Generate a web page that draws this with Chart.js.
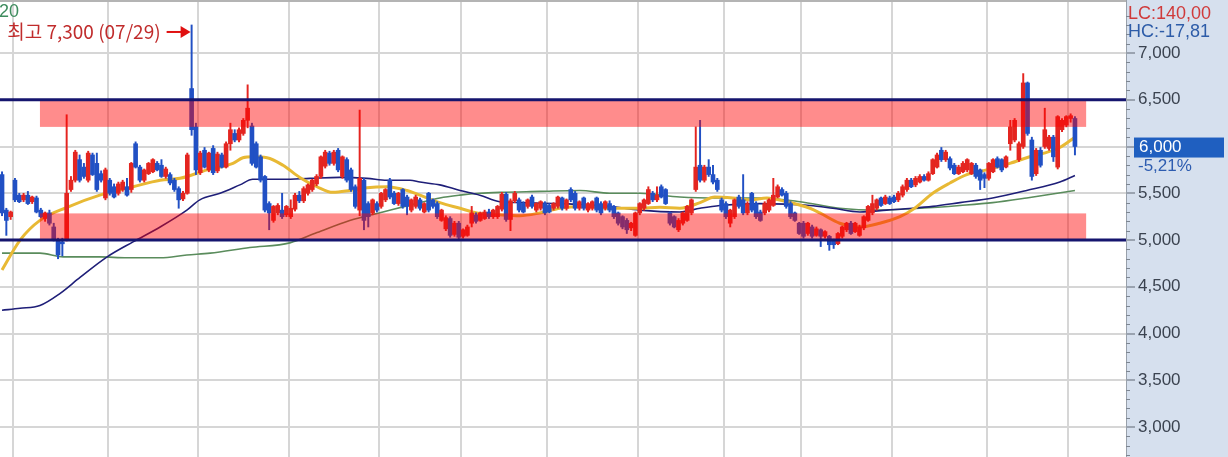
<!DOCTYPE html>
<html lang="ko">
<head>
  <meta charset="UTF-8" />
  <title>주가 차트</title>
  <style>
    * { margin: 0; padding: 0; box-sizing: border-box; }
    body { background: #fff; width: 1228px; height: 457px; overflow: hidden; }
    canvas { display: block; }
  </style>
</head>
<body>
  <canvas id="priceChart" width="1228" height="457"></canvas>

  <script src="https://cdn.jsdelivr.net/npm/chart.js"></script>
  <script>
    // daily candles (won)
    const opens = [
      5700, 5320, 5250, 5640, 5480, 5430, 5480, 5410, 5450, 5320,
      5230, 5290, 5140, 5000, 4980, 5000, 5540, 5640, 5860, 5780,
      5640, 5910, 5820, 5710, 5450, 5640, 5570, 5500, 5540, 5570,
      5540, 6030, 5780, 5640, 5710, 5730, 5820, 5800, 5680, 5700,
      5640, 5550, 5440, 5500, 6620, 6210, 5720, 5960, 5750, 5980,
      5740, 5910, 5780, 6030, 6140, 6070, 6140, 6280, 6220, 6030,
      5890, 5680, 5390, 5210, 5290, 5320, 5270, 5250, 5330, 5480,
      5420, 5500, 5540, 5600, 5680, 5790, 5930, 5820, 5960, 5680,
      5860, 5750, 5570, 5320, 5640, 5390, 5290, 5390, 5360, 5430,
      5640, 5500, 5390, 5540, 5460, 5320, 5360, 5430, 5300, 5500,
      5430, 5390, 5210, 5120, 5230, 5060, 5180, 5040, 5050, 5180,
      5270, 5210, 5230, 5300, 5250, 5250, 5330, 5490, 5220, 5420,
      5430, 5390, 5360, 5460, 5320, 5340, 5390, 5370, 5340, 5360,
      5450, 5340, 5540, 5500, 5340, 5450, 5320, 5340, 5450, 5390,
      5340, 5390, 5360, 5290, 5250, 5210, 5130, 5050, 5290, 5340,
      5390, 5500, 5430, 5570, 5540, 5290, 5250, 5110, 5180, 5210,
      5290, 5540, 5800, 5640, 5780, 5700, 5640, 5430, 5390, 5180,
      5250, 5460, 5430, 5290, 5500, 5390, 5300, 5290, 5320, 5370,
      5460, 5540, 5500, 5390, 5290, 5180, 5180, 5070, 5140, 5050,
      5110, 5040, 5040, 4990, 4960, 5040, 5110, 5180, 5090, 5050,
      5130, 5210, 5290, 5340, 5450, 5390, 5450, 5460, 5430, 5480,
      5540, 5640, 5590, 5620, 5680, 5640, 5710, 5780, 5960, 5860,
      5870, 5800, 5710, 5730, 5750, 5710, 5800, 5750, 5700, 5660,
      5730, 5870, 5860, 5780, 6030, 6070, 5860, 6000, 6680, 6070,
      5710, 5960, 6000, 5980, 6100, 5780, 6180, 6230, 6300, 6300
    ];
    const highs = [
      5730, 5340, 5310, 5660, 5500, 5500, 5520, 5470, 5470, 5340,
      5300, 5320, 5180, 5020, 5020, 6340, 5680, 5960, 5910, 5820,
      5950, 5930, 5930, 5740, 5770, 5660, 5600, 5620, 5640, 5660,
      5830, 6050, 5800, 5760, 5830, 5870, 5840, 5860, 5780, 5720,
      5660, 5570, 5520, 5930, 7300, 6250, 5950, 5990, 5940, 6010,
      5940, 5930, 6050, 6250, 6180, 6200, 6300, 6660, 6250, 6050,
      5910, 5690, 5410, 5370, 5390, 5500, 5370, 5430, 5500, 5520,
      5570, 5600, 5650, 5700, 5900, 5960, 5950, 5960, 5980, 5900,
      5880, 5770, 5590, 6390, 5660, 5410, 5440, 5410, 5510, 5550,
      5660, 5520, 5510, 5550, 5480, 5440, 5480, 5450, 5400, 5510,
      5440, 5410, 5330, 5260, 5250, 5200, 5200, 5120, 5160, 5360,
      5290, 5300, 5320, 5330, 5330, 5370, 5510, 5510, 5440, 5520,
      5450, 5410, 5440, 5480, 5400, 5420, 5410, 5390, 5400, 5470,
      5460, 5440, 5560, 5520, 5420, 5460, 5400, 5420, 5460, 5410,
      5420, 5420, 5370, 5300, 5260, 5230, 5190, 5300, 5400, 5440,
      5570, 5520, 5570, 5590, 5550, 5300, 5260, 5230, 5300, 5370,
      5440, 6210, 6280, 5800, 5860, 5800, 5660, 5450, 5410, 5330,
      5440, 5480, 5700, 5410, 5510, 5410, 5320, 5410, 5440, 5660,
      5590, 5560, 5520, 5410, 5300, 5190, 5200, 5190, 5160, 5140,
      5120, 5100, 5050, 5010, 5080, 5150, 5190, 5200, 5190, 5160,
      5260, 5370, 5480, 5440, 5460, 5480, 5470, 5480, 5520, 5590,
      5660, 5660, 5680, 5700, 5700, 5730, 5870, 5930, 5990, 5960,
      5890, 5820, 5800, 5840, 5870, 5830, 5820, 5760, 5720, 5830,
      5870, 5890, 5870, 5900, 6280, 6300, 6050, 6780, 6690, 6100,
      5980, 5990, 6410, 6120, 6120, 6330, 6300, 6330, 6350, 6320
    ];
    const lows = [
      5260, 5050, 5220, 5410, 5400, 5410, 5380, 5390, 5290, 5240,
      5200, 5160, 4990, 4800, 4830, 4990, 5520, 5620, 5620, 5660,
      5620, 5690, 5520, 5620, 5430, 5480, 5450, 5480, 5520, 5470,
      5510, 5770, 5620, 5620, 5700, 5720, 5740, 5670, 5660, 5590,
      5520, 5340, 5420, 5490, 6120, 5700, 5700, 5770, 5730, 5700,
      5720, 5770, 5770, 5960, 6050, 6050, 6120, 6200, 5800, 5770,
      5620, 5300, 5110, 5190, 5270, 5230, 5250, 5230, 5310, 5400,
      5400, 5480, 5520, 5580, 5660, 5770, 5800, 5800, 5730, 5660,
      5620, 5520, 5340, 5260, 5110, 5140, 5270, 5300, 5340, 5410,
      5440, 5380, 5370, 5340, 5270, 5300, 5340, 5320, 5290, 5300,
      5340, 5230, 5200, 5100, 5030, 5040, 5010, 5020, 5040, 5140,
      5180, 5200, 5220, 5230, 5230, 5230, 5310, 5200, 5100, 5400,
      5300, 5290, 5340, 5340, 5300, 5320, 5270, 5290, 5320, 5340,
      5320, 5320, 5410, 5320, 5320, 5320, 5300, 5320, 5300, 5270,
      5320, 5300, 5230, 5160, 5120, 5070, 5100, 5040, 5270, 5320,
      5380, 5410, 5410, 5450, 5380, 5160, 5130, 5090, 5160, 5200,
      5270, 5520, 5620, 5620, 5680, 5600, 5520, 5300, 5230, 5140,
      5230, 5340, 5270, 5270, 5300, 5230, 5200, 5270, 5300, 5360,
      5450, 5470, 5340, 5230, 5200, 5060, 5020, 5050, 5020, 5040,
      4930, 5020, 4890, 4910, 4950, 5020, 5090, 5060, 5080, 5040,
      5110, 5200, 5270, 5320, 5360, 5380, 5380, 5400, 5410, 5460,
      5520, 5560, 5570, 5610, 5630, 5630, 5700, 5770, 5840, 5840,
      5750, 5700, 5700, 5720, 5730, 5700, 5660, 5540, 5560, 5640,
      5720, 5770, 5730, 5770, 5960, 6050, 5840, 5980, 6120, 5640,
      5690, 5780, 5980, 5960, 5840, 5760, 6160, 6210, 6260, 5910
    ];
    const closes = [
      5290, 5210, 5300, 5430, 5410, 5480, 5390, 5460, 5300, 5250,
      5290, 5180, 5000, 4840, 4960, 5500, 5640, 5940, 5640, 5680,
      5930, 5700, 5540, 5640, 5750, 5500, 5460, 5600, 5620, 5480,
      5820, 5780, 5640, 5750, 5820, 5860, 5750, 5680, 5760, 5610,
      5540, 5430, 5500, 5910, 6180, 5750, 5930, 5780, 5930, 5720,
      5920, 5780, 6030, 6180, 6070, 6180, 6280, 6410, 5820, 5780,
      5640, 5320, 5290, 5360, 5370, 5250, 5360, 5340, 5480, 5420,
      5550, 5590, 5640, 5680, 5890, 5940, 5820, 5940, 5750, 5890,
      5640, 5540, 5360, 5660, 5210, 5250, 5430, 5320, 5500, 5540,
      5460, 5390, 5500, 5360, 5360, 5430, 5460, 5340, 5390, 5320,
      5360, 5250, 5320, 5240, 5050, 5180, 5030, 5110, 5140, 5290,
      5200, 5290, 5300, 5250, 5320, 5360, 5490, 5220, 5420, 5500,
      5320, 5300, 5430, 5360, 5390, 5410, 5290, 5300, 5390, 5460,
      5340, 5430, 5430, 5340, 5410, 5340, 5390, 5410, 5320, 5290,
      5410, 5320, 5250, 5180, 5140, 5110, 5180, 5290, 5390, 5430,
      5540, 5430, 5480, 5460, 5390, 5180, 5140, 5210, 5290, 5360,
      5430, 5780, 5640, 5780, 5700, 5620, 5540, 5320, 5250, 5320,
      5430, 5360, 5290, 5390, 5320, 5250, 5210, 5390, 5430, 5480,
      5570, 5480, 5360, 5250, 5210, 5070, 5040, 5180, 5040, 5120,
      5040, 5090, 4950, 4950, 5070, 5140, 5180, 5070, 5180, 5140,
      5250, 5360, 5390, 5430, 5370, 5460, 5390, 5410, 5500, 5570,
      5640, 5570, 5660, 5680, 5640, 5710, 5860, 5910, 5860, 5940,
      5770, 5710, 5780, 5820, 5860, 5820, 5680, 5640, 5660, 5820,
      5860, 5780, 5750, 5890, 6210, 6280, 6030, 6680, 6140, 5680,
      5960, 5800, 6180, 6100, 5890, 6320, 6280, 6320, 6330, 6000
    ];

    // first trading day of each month (candle index)
    const monthStarts = [3, 25, 46, 67, 88, 107, 127, 148, 168, 186, 207, 229, 248];

    // price axis ticks
    const priceTicks = [3000, 3500, 4000, 4500, 5000, 5500, 6000, 6500, 7000];

    // moving averages as [day, price] samples
    const maShort = [
      [0, 4680], [4.2, 5000], [8.8, 5210], [15.1, 5350], [22.7, 5480], [30.4, 5570],
      [36.7, 5640], [41.3, 5660], [47.6, 5750], [53.6, 5820], [55.9, 5880], [58.2, 5890],
      [61.5, 5880], [65.2, 5800], [69.1, 5670], [73.1, 5570], [76.8, 5510], [80.7, 5530],
      [84.7, 5560], [89.3, 5570], [94, 5530], [97, 5480], [101.6, 5400], [106.3, 5340],
      [110.2, 5290], [115.5, 5270], [120.2, 5260], [124.8, 5290], [129.5, 5340], [134.1, 5360],
      [141, 5340], [148, 5340], [152.7, 5350], [157.3, 5340], [162, 5400], [165.4, 5460],
      [169.6, 5450], [173.5, 5430], [177.5, 5450], [182.1, 5410], [187.5, 5340], [189.8, 5290],
      [194.4, 5180], [199.1, 5140], [203.7, 5180], [208.4, 5250], [211.8, 5340], [216, 5500],
      [220, 5610], [223.9, 5700], [228.5, 5750], [233.9, 5820], [237.8, 5880], [245.5, 5990],
      [249, 6100]
    ];
    const maMid = [
      [0, 4250], [4.2, 4270], [8.8, 4300], [13.5, 4430], [18.1, 4600], [24.4, 4820],
      [30.4, 4980], [36.7, 5140], [42.9, 5320], [45.9, 5430], [50.6, 5500], [55.2, 5590],
      [58.2, 5650], [65.2, 5650], [71.5, 5660], [78.4, 5670], [84.7, 5660], [89.3, 5640],
      [94.7, 5640], [97, 5620], [101.6, 5590], [106.3, 5530], [110.9, 5480], [115.5, 5410],
      [120.2, 5400], [129.5, 5390], [141, 5360], [148, 5320], [157.3, 5300], [162, 5340],
      [166.6, 5370], [175.9, 5390], [187.5, 5370], [192.8, 5340], [199.1, 5300], [205.3, 5320],
      [211.4, 5340], [216, 5360], [222.3, 5400], [229.9, 5450], [237.8, 5530], [245.5, 5620],
      [249, 5690]
    ];
    const maLong = [
      [0, 4860], [8.8, 4860], [14.2, 4820], [22.7, 4820], [29, 4810], [36.7, 4810],
      [42.9, 4840], [48.3, 4860], [57.5, 4920], [66.8, 4970], [73.1, 5080], [80.7, 5210],
      [88.4, 5300], [93.5, 5360], [97, 5400], [101.6, 5450], [106.3, 5480], [110.9, 5500],
      [115.5, 5510], [124.8, 5520], [134.1, 5530], [141, 5500], [148, 5500], [157.3, 5460],
      [166.6, 5450], [175.9, 5450], [185.2, 5410], [194.4, 5340], [203.7, 5320], [213, 5340],
      [222.3, 5370], [229.9, 5400], [237.8, 5450], [249, 5530]
    ];

    // box range drawn on the chart
    const upperBand = [6210, 6500];
    const lowerBand = [5000, 5285];
    const bandDays = [8.8, 251.6];
    const levelLines = [6500, 5000];

    const highDate = '07/29';
    const lcText = 'LC:140,00';
    const hcText = 'HC:-17,81';
    const changeText = '-5,21%';
    const maLabel = '20';

    const UP = '#e42520';
    const DOWN = '#2150c4';
    const AXIS_FONT = '"Liberation Sans", Arial, sans-serif';

    const days = closes.map((_, i) => i);
    const wicks = days.map(i => ({ x: i, y: [lows[i], highs[i]] }));
    const bodies = days.map(i => ({ x: i, y: [opens[i], closes[i]] }));
    const candleColors = days.map(i => closes[i] >= opens[i] ? UP : DOWN);
    const toPoints = arr => arr.map(([x, y]) => ({ x, y }));
    const fmt = v => v.toLocaleString('en-US');

    const overlay = {
      id: 'overlay',
      beforeDraw(chart) {
        const { ctx, chartArea: a, width, height } = chart;
        ctx.save();
        ctx.fillStyle = '#d6e0ee';
        ctx.fillRect(a.right, 0, width - a.right, height);
        ctx.restore();
      },
      afterDatasetsDraw(chart) {
        const { ctx, chartArea: a, scales: { x, y } } = chart;
        ctx.save();
        ctx.beginPath();
        ctx.rect(a.left, a.top, a.right - a.left, a.bottom - a.top);
        ctx.clip();

        // translucent red boxes
        const x0 = x.getPixelForValue(bandDays[0]);
        const x1 = x.getPixelForValue(bandDays[1]);
        ctx.fillStyle = 'rgba(255, 0, 0, 0.45)';
        [upperBand, lowerBand].forEach(([lo, hi]) => {
          const yTop = y.getPixelForValue(hi);
          const yBot = y.getPixelForValue(lo);
          ctx.fillRect(x0, yTop, x1 - x0, yBot - yTop);
        });

        // navy level lines
        ctx.strokeStyle = '#15156e';
        ctx.lineWidth = 3;
        levelLines.forEach(v => {
          const py = y.getPixelForValue(v);
          ctx.beginPath();
          ctx.moveTo(a.left, py);
          ctx.lineTo(a.right, py);
          ctx.stroke();
        });

        // top border
        ctx.strokeStyle = '#b4b4b4';
        ctx.lineWidth = 2;
        ctx.beginPath();
        ctx.moveTo(a.left, a.top + 1);
        ctx.lineTo(a.right, a.top + 1);
        ctx.stroke();
        ctx.restore();
      },
      afterDraw(chart) {
        const { ctx, chartArea: a, width, scales: { x, y } } = chart;
        ctx.save();

        // minor ticks on the price axis
        ctx.strokeStyle = '#7d8692';
        ctx.lineWidth = 1;
        for (let v = Math.ceil(y.min / 100) * 100; v <= y.max; v += 100) {
          if (v % 500 === 0) continue;
          const py = Math.round(y.getPixelForValue(v)) + 0.5;
          ctx.beginPath();
          ctx.moveTo(a.right, py);
          ctx.lineTo(a.right + 4, py);
          ctx.stroke();
        }

        ctx.textBaseline = 'middle';
        ctx.textAlign = 'left';
        ctx.font = '18px ' + AXIS_FONT;
        ctx.fillStyle = '#d03a3a';
        ctx.fillText(lcText, a.right + 2, 14);
        ctx.fillStyle = '#2d5ca8';
        ctx.fillText(hcText, a.right + 2, 32);

        // current price box
        ctx.font = '17px ' + AXIS_FONT;
        const last = closes[closes.length - 1];
        const py = y.getPixelForValue(last);
        ctx.fillStyle = '#1f5fc0';
        ctx.fillRect(a.right + 8, py - 9, width - a.right - 12, 20);
        ctx.fillStyle = '#ffffff';
        ctx.fillText(fmt(last), a.right + 13, py + 1);
        ctx.fillStyle = '#2d5cb0';
        ctx.fillText(changeText, a.right + 12, py + 20);

        // highest price note
        const hi = Math.max(...highs);
        const hiDay = highs.indexOf(hi);
        const hx = x.getPixelForValue(hiDay);
        const ay = y.getPixelForValue(hi) + 7;
        ctx.strokeStyle = '#e01010';
        ctx.fillStyle = '#e01010';
        ctx.lineWidth = 2;
        ctx.beginPath();
        ctx.moveTo(hx - 25, ay);
        ctx.lineTo(hx - 8, ay);
        ctx.stroke();
        ctx.beginPath();
        ctx.moveTo(hx - 1, ay);
        ctx.lineTo(hx - 11, ay - 6);
        ctx.lineTo(hx - 11, ay + 6);
        ctx.closePath();
        ctx.fill();
        ctx.fillStyle = '#c02c2c';
        ctx.textAlign = 'right';
        ctx.font = '19px "Noto Sans CJK KR", sans-serif';
        ctx.fillText('최고 ' + fmt(hi) + ' (' + highDate + ')', hx - 31, ay);

        ctx.textAlign = 'left';
        ctx.font = '18px ' + AXIS_FONT;
        ctx.fillStyle = '#3e8c5e';
        ctx.fillText(maLabel, a.left - 1, 12);
        ctx.restore();
      }
    };

    const chart = new Chart(document.getElementById('priceChart'), {
      type: 'bar',
      data: {
        datasets: [
          {
            label: 'body', data: bodies, backgroundColor: candleColors,
            barThickness: 4, grouped: false, minBarLength: 1, borderWidth: 0
          },
          {
            label: 'wick', data: wicks, backgroundColor: candleColors,
            barThickness: 1.3, grouped: false, borderWidth: 0
          },
          {
            type: 'line', label: 'MA short', data: toPoints(maShort),
            borderColor: '#e8b934', borderWidth: 3, pointRadius: 0, cubicInterpolationMode: 'monotone'
          },
          {
            type: 'line', label: 'MA mid', data: toPoints(maMid),
            borderColor: '#1e1e78', borderWidth: 1.6, pointRadius: 0, cubicInterpolationMode: 'monotone'
          },
          {
            type: 'line', label: 'MA long', data: toPoints(maLong),
            borderColor: '#5a8c5c', borderWidth: 1.6, pointRadius: 0, cubicInterpolationMode: 'monotone'
          }
        ]
      },
      options: {
        responsive: false,
        animation: false,
        devicePixelRatio: 1,
        events: [],
        layout: { padding: 0 },
        plugins: { legend: { display: false }, tooltip: { enabled: false } },
        scales: {
          x: {
            type: 'linear',
            min: -0.47,
            max: 260.85,
            offset: false,
            grid: { color: '#d6d6d6', lineWidth: 2, drawTicks: false, offset: false },
            border: { display: false },
            ticks: { display: false },
            afterBuildTicks(s) { s.ticks = monthStarts.map(v => ({ value: v - 0.5 })); },
            afterFit(s) { s.height = 0; s.paddingLeft = 0; s.paddingRight = 0; }
          },
          y: {
            type: 'linear',
            position: 'right',
            min: 2680,
            max: 7567,
            ticks: {
              padding: 3,
              color: '#3b4350',
              font: { family: AXIS_FONT, size: 17 },
              callback: v => fmt(v)
            },
            afterBuildTicks(s) { s.ticks = priceTicks.map(v => ({ value: v })); },
            grid: {
              color: '#d6d6d6',
              tickColor: '#5f6772',
              lineWidth: 2,
              tickWidth: 1,
              tickLength: 9
            },
            border: { display: true, color: '#98a0aa', width: 1 },
            afterFit(s) { s.width = 102; s.paddingTop = 0; s.paddingBottom = 0; }
          }
        }
      },
      plugins: [overlay]
    });
  </script>
</body>
</html>
